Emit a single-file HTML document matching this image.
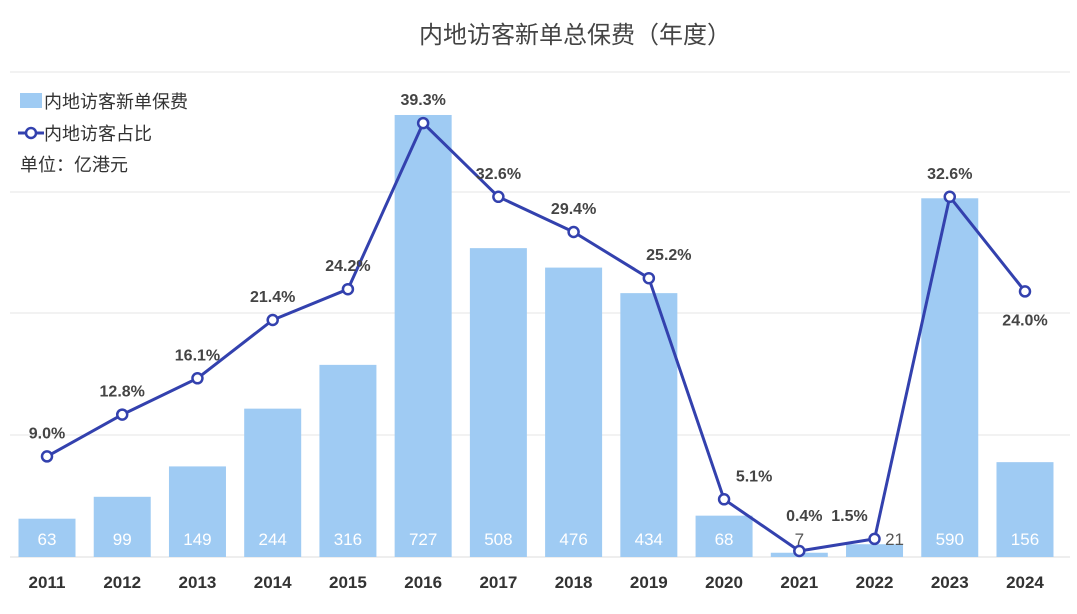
<!DOCTYPE html>
<html><head><meta charset="utf-8">
<style>
html,body{margin:0;padding:0;background:#fff;}
body{width:1077px;height:609px;overflow:hidden;font-family:"Liberation Sans","Noto Sans CJK SC",sans-serif;}
</style></head>
<body>
<svg id="chart" width="1077" height="609" xmlns="http://www.w3.org/2000/svg" style="font-family:'Liberation Sans','Noto Sans CJK SC',sans-serif">
<rect x="0" y="0" width="1077" height="609" fill="#ffffff"/>
<text x="575" y="43" text-anchor="middle" font-size="24" fill="#444">内地访客新单总保费（年度）</text>
<g id="grid"></g>
<g id="bars"></g>
<g id="line"></g>
<g id="xaxis"></g>
<g>
<rect x="20" y="93" width="22" height="15" fill="#9fcbf3"/>
<text x="44" y="108" font-size="18" fill="#333">内地访客新单保费</text>
<line x1="18" y1="133" x2="44" y2="133" stroke="#3341ae" stroke-width="3"/>
<circle cx="31" cy="133" r="5" fill="#fff" stroke="#3341ae" stroke-width="2.5"/>
<text x="44" y="140" font-size="18" fill="#333">内地访客占比</text>
<text x="20" y="171" font-size="18" fill="#333">单位：亿港元</text>
</g>
</svg>
<script>
const years=["2011","2012","2013","2014","2015","2016","2017","2018","2019","2020","2021","2022","2023","2024"];
const premiums=[63,99,149,244,316,727,508,476,434,68,7,21,590,156];
const shares=[9.0,12.8,16.1,21.4,24.2,39.3,32.6,29.4,25.2,5.1,0.4,1.5,32.6,24.0];
const NS="http://www.w3.org/2000/svg";
const base=557, x0=47, step=75.23, bw=57;
function xPos(i){return x0+i*step;}
function yBar(v){return base-v*0.608;}
function yPct(p){return 555.4-p*11.0;}
function mk(tag,attrs,parent){const e=document.createElementNS(NS,tag);for(const k in attrs)e.setAttribute(k,attrs[k]);parent.appendChild(e);return e;}
const grid=document.getElementById('grid');
[72,192,313,435].forEach(y=>{
 const l=mk('line',{x1:10,x2:1070,y1:y,y2:y,stroke:'#e6e6e6','stroke-width':1},grid);
 
 
});
const axl=mk('line',{x1:10,x2:1070,y1:base,y2:base,stroke:'#ddd','stroke-width':1},grid);


const bars=document.getElementById('bars');
premiums.forEach((v,i)=>{
 const y=yBar(v);
 const r=mk('rect',{x:xPos(i)-bw/2,y:y,width:bw,height:base-y,fill:'#9fcbf3'},bars);
 
 
 const small=(base-y)<30;
 const t=mk('text',{x:xPos(i)+(v<15?0:(small?20:0)),y:545,'text-anchor':'middle','font-size':17,fill:small?'#555':'#fff'},bars);
 t.textContent=String(v);
 
 
});
const line=document.getElementById('line');
const pts=shares.map((p,i)=>xPos(i)+','+yPct(p)).join(' ');
const pl=mk('polyline',{points:pts,fill:'none',stroke:'#3341ae','stroke-width':3,'stroke-linejoin':'round'},line);


const dx=[0,0,0,0,0,0,0,0,20,30,5,-25,0,0];
shares.forEach((p,i)=>{
 const c=mk('circle',{cx:xPos(i),cy:yPct(p),r:5,fill:'#fff',stroke:'#3341ae','stroke-width':2.5},line);
 
 
 let ly=yPct(p)-18;
 if(i===13) ly=yPct(p)+34;
 if(i===10||i===11) ly=521;
 const t=mk('text',{x:xPos(i)+dx[i],y:ly,'text-anchor':'middle','font-size':16,'font-weight':'bold',fill:'#444'},line);
 t.textContent=p.toFixed(1)+'%';
 
 
});
const xa=document.getElementById('xaxis');
years.forEach((y,i)=>{
 const t=mk('text',{x:xPos(i),y:588,'text-anchor':'middle','font-size':17,'font-weight':'bold',fill:'#333'},xa);
 t.textContent=y;
 
 
});
</script>
</body></html>
